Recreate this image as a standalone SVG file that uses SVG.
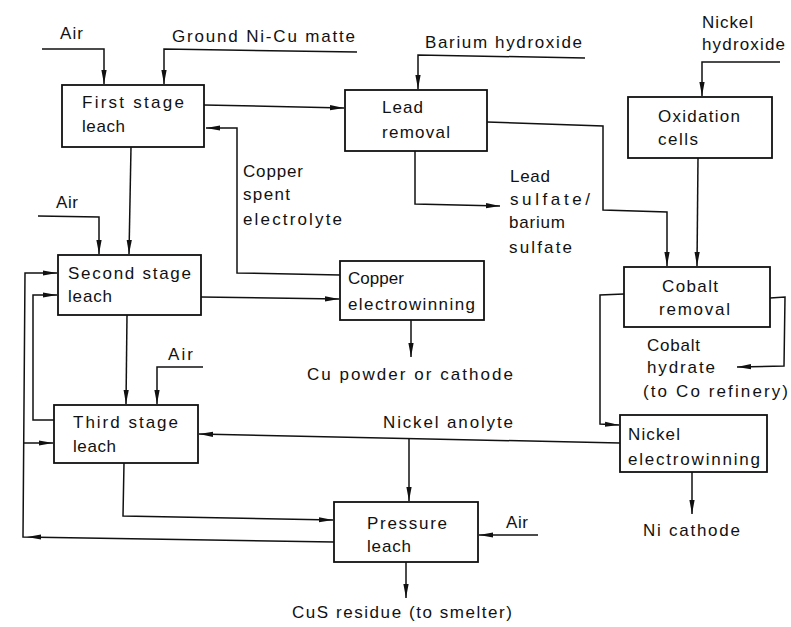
<svg xmlns="http://www.w3.org/2000/svg" width="791" height="627" viewBox="0 0 791 627">
<style>
.box{fill:#fff;stroke:#111;stroke-width:1.8}
.ln{fill:none;stroke:#111;stroke-width:1.5}
.t{font-family:"Liberation Sans","DejaVu Sans",sans-serif;font-size:17px;fill:#111}
.ah{fill:#111}
</style>
<defs>
<marker id="a" markerUnits="userSpaceOnUse" markerWidth="15" markerHeight="8" refX="14" refY="4" orient="auto">
<path d="M0,1.4 L14,4 L0,6.6 z" fill="#111"/>
</marker>
</defs>
<rect width="791" height="627" fill="#fff"/>

<g id="connectors">
<polyline class="ln" points="42,49 104,49 104,84" marker-end="url(#a)"/>
<polyline class="ln" points="357,52 164,49 164,84" marker-end="url(#a)"/>
<polyline class="ln" points="204,105 344,108" marker-end="url(#a)"/>
<polyline class="ln" points="340,275 237,273 237,128 206,128" marker-end="url(#a)"/>
<polyline class="ln" points="131,147 129,254" marker-end="url(#a)"/>
<polyline class="ln" points="38,216 99,217 99,254" marker-end="url(#a)"/>
<polyline class="ln" points="201,297 339,299" marker-end="url(#a)"/>
<polyline class="ln" points="411,320 411,357" marker-end="url(#a)"/>
<polyline class="ln" points="127,315 126,404" marker-end="url(#a)"/>
<polyline class="ln" points="203,367 157,367 157,404" marker-end="url(#a)"/>
<polyline class="ln" points="124,463 123,516 333,520" marker-end="url(#a)"/>
<polyline class="ln" points="334,542 23,537 25,273 57,273" marker-end="url(#a)"/>
<polygon class="ah" points="27,537 41,534.4 41,539.6"/>
<polyline class="ln" points="24,443 53,443" marker-end="url(#a)"/>
<polyline class="ln" points="54,420 33,420 33,295 57,295" marker-end="url(#a)"/>
<polyline class="ln" points="620,443 199,434" marker-end="url(#a)"/>
<polyline class="ln" points="409,439 409,501" marker-end="url(#a)"/>
<polyline class="ln" points="538,535 479,535" marker-end="url(#a)"/>
<polyline class="ln" points="406,562 406,598" marker-end="url(#a)"/>
<polyline class="ln" points="585,58 418,55 418,89" marker-end="url(#a)"/>
<polyline class="ln" points="415,151 415,204 500,206" marker-end="url(#a)"/>
<polyline class="ln" points="487,122 603,126 603,210 667,212 667,266" marker-end="url(#a)"/>
<polyline class="ln" points="780,62 702,62 702,96" marker-end="url(#a)"/>
<polyline class="ln" points="698,158 697,266" marker-end="url(#a)"/>
<polyline class="ln" points="770,298 785,297 784,366 737,367" marker-end="url(#a)"/>
<polyline class="ln" points="624,294 600,295 600,424 619,425" marker-end="url(#a)"/>
<polyline class="ln" points="692,472 692,514" marker-end="url(#a)"/>
</g>

<g id="labels">
<text class="t" x="60" y="39" textLength="23" lengthAdjust="spacing">Air</text>
<text class="t" x="172" y="42" textLength="183" lengthAdjust="spacing">Ground Ni-Cu matte</text>
<text class="t" x="425" y="48" textLength="157" lengthAdjust="spacing">Barium hydroxide</text>
<text class="t" x="702" y="28" textLength="51" lengthAdjust="spacing">Nickel</text>
<text class="t" x="702" y="50" textLength="83" lengthAdjust="spacing">hydroxide</text>
<text class="t" x="243" y="177" textLength="60" lengthAdjust="spacing">Copper</text>
<text class="t" x="243" y="200" textLength="47" lengthAdjust="spacing">spent</text>
<text class="t" x="243" y="225" textLength="99" lengthAdjust="spacing">electrolyte</text>
<text class="t" x="510" y="182" textLength="40" lengthAdjust="spacing">Lead</text>
<text class="t" x="510" y="205" textLength="80" lengthAdjust="spacing">sulfate/</text>
<text class="t" x="509" y="228" textLength="56" lengthAdjust="spacing">barium</text>
<text class="t" x="509" y="253" textLength="63" lengthAdjust="spacing">sulfate</text>
<text class="t" x="56" y="208" textLength="22" lengthAdjust="spacing">Air</text>
<text class="t" x="168" y="360" textLength="25" lengthAdjust="spacing">Air</text>
<text class="t" x="307" y="380" textLength="206" lengthAdjust="spacing">Cu powder or cathode</text>
<text class="t" x="647" y="351" textLength="53" lengthAdjust="spacing">Cobalt</text>
<text class="t" x="647" y="373" textLength="68" lengthAdjust="spacing">hydrate</text>
<text class="t" x="643" y="397" textLength="145" lengthAdjust="spacing">(to Co refinery)</text>
<text class="t" x="383" y="428" textLength="130" lengthAdjust="spacing">Nickel anolyte</text>
<text class="t" x="506" y="528" textLength="22" lengthAdjust="spacing">Air</text>
<text class="t" x="643" y="536" textLength="97" lengthAdjust="spacing">Ni cathode</text>
<text class="t" x="292" y="618" textLength="220" lengthAdjust="spacing">CuS residue (to smelter)</text>
</g>

<g id="first-stage-leach">
<rect class="box" x="62" y="85" width="142" height="62"/>
<text class="t" x="82" y="108" textLength="102" lengthAdjust="spacing">First stage</text>
<text class="t" x="82" y="132" textLength="43" lengthAdjust="spacing">leach</text>
</g>
<g id="lead-removal">
<rect class="box" x="345" y="90" width="142" height="61"/>
<text class="t" x="382" y="113" textLength="41" lengthAdjust="spacing">Lead</text>
<text class="t" x="382" y="138" textLength="68" lengthAdjust="spacing">removal</text>
</g>
<g id="oxidation-cells">
<rect class="box" x="628" y="97" width="144" height="61"/>
<text class="t" x="658" y="122" textLength="82" lengthAdjust="spacing">Oxidation</text>
<text class="t" x="658" y="145" textLength="40" lengthAdjust="spacing">cells</text>
</g>
<g id="second-stage-leach">
<rect class="box" x="58" y="255" width="143" height="60"/>
<text class="t" x="68" y="279" textLength="123" lengthAdjust="spacing">Second stage</text>
<text class="t" x="68" y="302" textLength="44" lengthAdjust="spacing">leach</text>
</g>
<g id="copper-electrowinning">
<rect class="box" x="340" y="261" width="144" height="59"/>
<text class="t" x="348" y="284" textLength="56" lengthAdjust="spacing">Copper</text>
<text class="t" x="348" y="310" textLength="127" lengthAdjust="spacing">electrowinning</text>
</g>
<g id="cobalt-removal">
<rect class="box" x="624" y="267" width="146" height="60"/>
<text class="t" x="662" y="292" textLength="56" lengthAdjust="spacing">Cobalt</text>
<text class="t" x="659" y="315" textLength="71" lengthAdjust="spacing">removal</text>
</g>
<g id="third-stage-leach">
<rect class="box" x="54" y="405" width="144" height="58"/>
<text class="t" x="73" y="428" textLength="105" lengthAdjust="spacing">Third stage</text>
<text class="t" x="73" y="452" textLength="43" lengthAdjust="spacing">leach</text>
</g>
<g id="nickel-electrowinning">
<rect class="box" x="620" y="415" width="147" height="57"/>
<text class="t" x="628" y="440" textLength="52" lengthAdjust="spacing">Nickel</text>
<text class="t" x="628" y="465" textLength="132" lengthAdjust="spacing">electrowinning</text>
</g>
<g id="pressure-leach">
<rect class="box" x="334" y="502" width="144" height="60"/>
<text class="t" x="367" y="529" textLength="80" lengthAdjust="spacing">Pressure</text>
<text class="t" x="367" y="552" textLength="44" lengthAdjust="spacing">leach</text>
</g>
</svg>
